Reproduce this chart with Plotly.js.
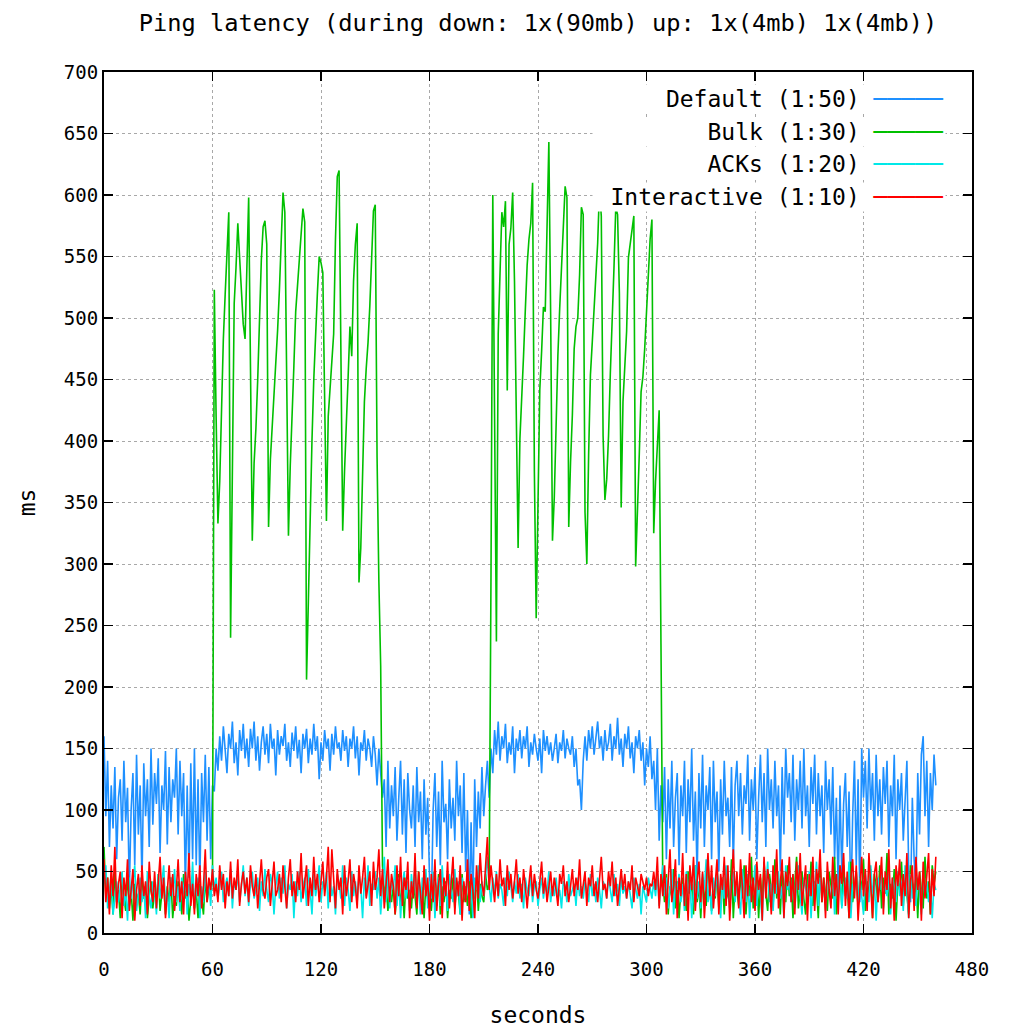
<!DOCTYPE html>
<html>
<head>
<meta charset="utf-8">
<script src="https://cdn.plot.ly/plotly-3.0.1.min.js"></script>
<style>html,body{margin:0;padding:0;background:#fff;}#chart{width:1013px;height:1028px;}</style>
</head>
<body>
<div id="chart"></div>
<script>
const chartTitle = "Ping latency (during down: 1x(90mb) up: 1x(4mb) 1x(4mb))";
const xTitle = "seconds";
const yTitle = "ms";
const seriesNames = ["Default (1:50)", "Bulk (1:30)", "ACKs (1:20)", "Interactive (1:10)"];
const seriesColors = ["#1e90ff", "#00c000", "#00e8e8", "#ff0000"];
const startSecond = 0;
const sampleStep = 1;

const defaultMs = [
 160, 95, 140, 70, 120, 85, 135, 60, 110, 125,
 75, 140, 90, 118, 35, 100, 130, 55, 145, 80,
 120, 40, 138, 95, 125, 70, 150, 88, 130, 105,
 142, 65, 120, 100, 148, 72, 135, 90, 125, 110,
 150, 80, 140, 95, 130, 35, 120, 45, 138, 60,
 150, 55, 125, 40, 130, 90, 145, 75, 135, 60,
 120, 115, 150, 132, 160, 140, 168, 145, 130, 162,
 150, 172, 138, 155, 128, 165, 148, 170, 142, 158,
 135, 166, 150, 172, 140, 160, 132, 155, 168, 145,
 162, 138, 170, 150, 158, 128, 165, 145, 160, 152,
 170, 140, 155, 135, 163, 148, 168, 142, 157, 130,
 162, 150, 166, 138, 158, 145, 170, 148, 160, 125,
 155, 140, 165, 150, 158, 132, 162, 145, 168, 150,
 155, 140, 165, 148, 160, 135, 158, 150, 168, 142,
 160, 128, 155, 148, 165, 140, 158, 150, 135, 160,
 145, 120, 150, 130, 110, 125, 70, 140, 85, 120,
 95, 135, 75, 110, 140, 80, 125, 65, 130, 100,
 85, 120, 70, 135, 90, 115, 60, 125, 80, 110,
 45, 20, 100, 130, 70, 115, 55, 140, 90, 105,
 60, 125, 85, 110, 75, 140, 95, 120, 65, 130,
 50, 100, 15, 90, 20, 125, 70, 115, 85, 135,
 95, 120, 140, 110, 150, 130, 165, 145, 172, 140,
 160, 150, 170, 138, 155, 145, 168, 130, 158, 148,
 165, 142, 160, 150, 168, 135, 155, 145, 162, 150,
 140, 158, 130, 165, 148, 160, 145, 155, 140, 150,
 162, 138, 155, 148, 165, 142, 158, 150, 145, 160,
 135, 150, 120, 125, 100, 140, 160, 140, 165, 150,
 168, 145, 158, 172, 150, 160, 140, 165, 148, 155,
 170, 140, 160, 150, 175, 145, 158, 135, 162, 150,
 168, 142, 155, 130, 160, 150, 165, 140, 155, 120,
 150, 135, 160, 125, 140, 100, 150, 75, 120, 90,
 135, 60, 125, 85, 140, 70, 110, 130, 55, 120,
 95, 140, 65, 125, 90, 150, 75, 115, 45, 130,
 85, 145, 70, 120, 100, 135, 60, 140, 90, 115,
 50, 125, 80, 140, 95, 110, 70, 135, 55, 120,
 140, 95, 130, 80, 120, 105, 145, 75, 125, 100,
 135, 60, 110, 145, 90, 130, 70, 150, 100, 125,
 85, 140, 95, 120, 50, 135, 80, 150, 110, 130,
 90, 145, 75, 125, 100, 140, 85, 150, 95, 120,
 70, 135, 105, 145, 80, 130, 95, 120, 65, 140,
 100, 125, 80, 135, 60, 110, 35, 120, 45, 105,
 130, 70, 115, 20, 95, 140, 55, 125, 25, 150,
 110, 140, 85, 150, 100, 130, 75, 145, 95, 125,
 80, 135, 105, 140, 70, 120, 95, 145, 60, 125,
 100, 130, 75, 115, 140, 50, 25, 110, 60, 35,
 130, 80, 145, 160, 95, 140, 70, 130, 100, 145,
 120
];

const bulkMs = [
 70, 30, 45, 20, 38, 15, 50, 25, 35, 12,
 42, 28, 18, 48, 22, 35, 10, 40, 25, 32,
 15, 45, 28, 38, 12, 30, 42, 20, 35, 25,
 48, 18, 32, 40, 15, 38, 25, 45, 12, 30,
 22, 42, 35, 15, 48, 28, 38, 10, 32, 45,
 20, 35, 12, 40, 28, 15, 45, 25, 38, 30,
 45, 523, 420, 333, 367, 433, 483, 519, 560, 586,
 240, 377, 512, 541, 577, 549, 520, 495, 483, 552,
 598, 460, 319, 382, 410, 450, 508, 547, 574, 579,
 560, 330, 385, 410, 440, 461, 490, 523, 556, 602,
 586, 432, 323, 380, 430, 461, 505, 526, 547, 570,
 589, 578, 206, 269, 343, 400, 450, 490, 520, 550,
 545, 537, 412, 335, 420, 440, 465, 487, 564, 615,
 620, 454, 327, 375, 409, 452, 493, 469, 530, 560,
 577, 285, 313, 367, 432, 459, 480, 510, 546, 587,
 592, 387, 286, 217, 55, 30, 42, 18, 35, 25,
 40, 15, 32, 48, 22, 38, 12, 45, 28, 35,
 20, 42, 30, 15, 50, 25, 38, 12, 40, 28,
 35, 18, 45, 30, 22, 48, 15, 38, 25, 42,
 12, 35, 28, 45, 20, 40, 32, 15, 48, 25,
 38, 22, 42, 12, 35, 28, 45, 18, 40, 30,
 25, 48, 35, 40, 289, 600, 418, 237, 487, 532,
 586, 574, 595, 441, 560, 573, 602, 530, 417, 313,
 402, 443, 469, 507, 543, 564, 577, 610, 375, 256,
 343, 442, 473, 509, 505, 592, 643, 502, 319, 354,
 421, 470, 508, 541, 581, 607, 598, 330, 383, 421,
 475, 493, 500, 535, 590, 584, 342, 300, 389, 454,
 480, 509, 536, 561, 605, 583, 404, 352, 369, 404,
 455, 492, 540, 590, 584, 520, 346, 432, 457, 489,
 549, 562, 570, 583, 298, 339, 389, 440, 452, 475,
 507, 534, 564, 580, 325, 367, 397, 425, 235, 40,
 25, 48, 15, 38, 30, 52, 20, 42, 12, 35,
 45, 28, 18, 50, 32, 40, 15, 55, 25, 38,
 12, 45, 30, 22, 58, 35, 18, 42, 28, 50,
 20, 38, 45, 15, 52, 30, 25, 60, 12, 40,
 35, 22, 48, 28, 55, 15, 42, 30, 62, 20,
 38, 50, 12, 45, 25, 58, 32, 18, 48, 35,
 22, 60, 28, 42, 15, 52, 38, 25, 55, 30,
 45, 12, 40, 62, 20, 35, 50, 28, 15, 48,
 30, 58, 22, 42, 38, 12, 55, 25, 45, 32,
 18, 50, 40, 28, 62, 15, 35, 48, 22, 55,
 30, 42, 12, 58, 25, 38, 50, 20, 45, 35,
 60, 18, 42, 30, 52, 12, 48, 38, 25, 55,
 20, 45, 32, 65, 15, 40, 28, 52, 10, 42,
 35, 58, 22, 48, 30, 15, 55, 38, 25, 45,
 12, 50, 35, 20, 62, 28, 42, 15, 55, 40,
 50
];

const acksMs = [
 40, 55, 20, 35, 48, 15, 30, 42, 25, 38,
 50, 22, 35, 10, 45, 28, 40, 55, 18, 32,
 45, 25, 38, 12, 50, 30, 20, 42, 35, 15,
 48, 28, 40, 55, 22, 35, 12, 45, 30, 52,
 25, 38, 18, 45, 32, 50, 15, 40, 28, 58,
 20, 35, 45, 12, 38, 25, 50, 30, 42, 22,
 55, 35, 45, 28, 40, 50, 25, 38, 45, 30,
 52, 20, 42, 35, 48, 25, 38, 55, 30, 45,
 22, 40, 50, 28, 35, 45, 18, 42, 30, 52,
 35, 25, 48, 40, 15, 38, 50, 28, 45, 32,
 55, 20, 40, 35, 48, 12, 42, 30, 50, 25,
 38, 45, 22, 52, 35, 15, 48, 30, 40, 55,
 25, 42, 35, 50, 20, 45, 30, 38, 15, 48,
 40, 28, 55, 22, 45, 35, 18, 50, 30, 42,
 25, 48, 38, 12, 45, 30, 55, 22, 40, 35,
 50, 28, 45, 15, 38, 62, 25, 48, 20, 42,
 35, 55, 22, 45, 12, 38, 50, 28, 42, 18,
 48, 30, 55, 25, 40, 15, 45, 35, 52, 20,
 42, 28, 50, 12, 38, 45, 22, 55, 30, 40,
 18, 48, 35, 25, 52, 30, 42, 15, 45, 38,
 28, 50, 20, 40, 12, 45, 35, 55, 25, 42,
 30, 48, 62, 38, 25, 45, 32, 50, 28, 40,
 35, 22, 45, 30, 50, 38, 25, 42, 32, 48,
 28, 40, 20, 45, 35, 30, 48, 25, 38, 42,
 22, 35, 45, 28, 40, 32, 50, 25, 38, 30,
 45, 28, 35, 20, 42, 38, 25, 48, 30, 35,
 40, 22, 45, 30, 38, 28, 42, 35, 25, 48,
 30, 40, 25, 45, 35, 20, 42, 38, 28, 45,
 35, 25, 48, 30, 40, 22, 45, 32, 38, 28,
 42, 30, 20, 45, 35, 28, 40, 15, 38, 32,
 25, 45, 35, 28, 42, 30, 48, 22, 40, 55,
 30, 45, 20, 38, 52, 15, 42, 35, 48, 25,
 40, 18, 50, 32, 45, 12, 38, 55, 28, 42,
 20, 48, 35, 60, 25, 40, 15, 45, 30, 52,
 38, 12, 45, 28, 55, 35, 20, 42, 50, 25,
 45, 30, 15, 52, 38, 25, 48, 12, 40, 35,
 55, 22, 42, 30, 10, 48, 35, 58, 25, 40,
 18, 45, 32, 50, 28, 38, 12, 55, 35, 42,
 25, 48, 20, 40, 55, 30, 15, 45, 38, 28,
 50, 12, 42, 35, 58, 22, 45, 30, 40, 18,
 48, 35, 25, 52, 15, 42, 30, 55, 20, 38,
 45, 28, 58, 12, 40, 35, 50, 22, 45, 30,
 15, 48, 38, 25, 55, 32, 42, 10, 45, 35,
 52, 20, 40, 30, 48, 15, 45, 38, 25, 50,
 30, 42, 18, 55, 35, 12, 48, 28, 40, 22,
 45, 35, 15, 50, 30, 42, 25, 38, 12, 40,
 35
];

const interactiveMs = [
 60, 25, 45, 15, 55, 30, 70, 20, 40, 50,
 12, 45, 30, 60, 18, 38, 52, 10, 35, 48,
 22, 55, 30, 42, 15, 58, 35, 25, 50, 20,
 40, 62, 28, 45, 12, 38, 55, 30, 48, 18,
 35, 60, 25, 42, 15, 50, 30, 65, 22, 40,
 15, 48, 30, 55, 20, 38, 68, 25, 45, 35,
 52, 30, 40, 25, 55, 35, 48, 20, 42, 30,
 58, 28, 45, 35, 60, 22, 40, 50, 32, 45,
 25, 55, 38, 30, 48, 20, 42, 60, 35, 28,
 45, 52, 22, 40, 58, 30, 35, 48, 25, 55,
 38, 20, 45, 60, 30, 42, 25, 50, 35, 65,
 28, 40, 55, 22, 45, 30, 62, 35, 48, 25,
 40, 58, 30, 45, 70, 25, 68, 38, 20, 52,
 35, 45, 15, 55, 30, 42, 60, 25, 48, 38,
 20, 55, 32, 45, 62, 28, 40, 50, 22, 58,
 35, 45, 68, 30, 52, 20, 40, 60, 25, 48,
 38, 15, 55, 30, 62, 22, 45, 35, 58, 12,
 42, 28, 65, 20, 50, 35, 15, 55, 30, 45,
 10, 48, 25, 60, 18, 40, 52, 12, 45, 30,
 58, 20, 38, 62, 15, 45, 30, 55, 10, 42,
 25, 60, 18, 48, 35, 12, 55, 28, 65, 40,
 30, 52, 78, 35, 55, 40, 25, 48, 30, 60,
 38, 45, 22, 55, 35, 48, 28, 42, 60, 32,
 45, 25, 52, 38, 20, 40, 55, 30, 48, 35,
 28, 42, 58, 32, 45, 25, 38, 50, 30, 45,
 35, 22, 48, 40, 55, 30, 42, 25, 38, 52,
 30, 45, 35, 60, 28, 40, 50, 22, 45, 38,
 55, 30, 42, 25, 48, 62, 35, 40, 28, 50,
 38, 58, 30, 45, 22, 40, 52, 35, 48, 28,
 42, 35, 55, 25, 45, 38, 30, 48, 40, 35,
 45, 30, 40, 38, 50, 35, 62, 20, 48, 30,
 55, 15, 42, 68, 25, 38, 60, 12, 45, 30,
 65, 22, 48, 10, 55, 35, 62, 18, 42, 58,
 25, 50, 12, 45, 65, 30, 55, 20, 40, 60,
 15, 48, 35, 62, 22, 55, 10, 42, 68, 30,
 50, 20, 60, 38, 12, 55, 30, 65, 25, 45,
 18, 58, 35, 48, 10, 62, 28, 52, 40, 15,
 55, 32, 68, 20, 45, 60, 12, 50, 38, 62,
 25, 48, 15, 58, 35, 65, 22, 42, 55, 10,
 48, 30, 62, 18, 52, 40, 68, 25, 45, 12,
 58, 35, 20, 62, 30, 48, 15, 55, 40, 65,
 22, 50, 12, 45, 60, 28, 55, 10, 42, 62,
 30, 52, 18, 65, 38, 12, 48, 58, 25, 40,
 62, 15, 50, 35, 68, 20, 45, 10, 55, 38,
 60, 22, 48, 30, 65, 12, 42, 55, 18, 62,
 35, 50, 10, 58, 28, 45, 65, 15, 52, 30,
 62
];

const seriesValues = [defaultMs, bulkMs, acksMs, interactiveMs];

const MONO = "DejaVu Sans Mono, Liberation Mono, monospace";

const traces = seriesValues.map((vals, i) => ({
  type: "scatter",
  mode: "lines",
  name: seriesNames[i],
  x0: startSecond,
  dx: sampleStep,
  y: vals,
  line: { color: seriesColors[i], width: 1.6 },
  showlegend: false,
  hoverinfo: "skip"
}));

// gnuplot-style key: right-aligned label followed by a line sample, on an opaque box
const keyRightX = 0.970;
const keyTopY = 0.9686;
const keyRowStep = 0.038;
const keySample = "\u2500\u2500\u2500\u2500\u2500";

const annotations = seriesNames.map((name, i) => ({
  xref: "paper", yref: "paper",
  x: keyRightX, y: keyTopY - i * keyRowStep,
  xanchor: "right", yanchor: "middle",
  width: 350, align: "right",
  bgcolor: "#ffffff", borderpad: 1,
  text: name + " <span style=\"color:" + seriesColors[i] + "\">" + keySample + "</span>",
  showarrow: false,
  font: { family: MONO, size: 23, color: "#000" }
}));

const axisCommon = {
  showline: true, linecolor: "#000", linewidth: 2, mirror: "ticks",
  ticks: "inside", ticklen: 9, tickwidth: 1.5, tickcolor: "#000",
  showgrid: true, gridcolor: "#a8a8a8", gridwidth: 1, griddash: "3px,3px",
  zeroline: false,
  tickfont: { family: MONO, size: 19, color: "#000" }
};

const layout = {
  width: 1013, height: 1028,
  margin: { l: 104, r: 41, t: 72, b: 95 },
  paper_bgcolor: "#fff", plot_bgcolor: "#fff",
  title: { text: chartTitle, font: { family: MONO, size: 23.7, color: "#000" },
           x: 0.5, xref: "paper", y: 0.978, yref: "container", yanchor: "middle" },
  xaxis: Object.assign({}, axisCommon, {
    range: [0, 480], tick0: 0, dtick: 60, ticklabelstandoff: 18,
    title: { text: xTitle, font: { family: MONO, size: 23, color: "#000" }, standoff: 29 }
  }),
  yaxis: Object.assign({}, axisCommon, {
    range: [0, 700], tick0: 0, dtick: 50, ticklabelstandoff: 0,
    title: { text: yTitle, font: { family: MONO, size: 23, color: "#000" }, standoff: 22 }
  }),
  showlegend: false,
  annotations: annotations
};

Plotly.newPlot("chart", traces, layout, { staticPlot: true, displayModeBar: false });
</script>
</body>
</html>
